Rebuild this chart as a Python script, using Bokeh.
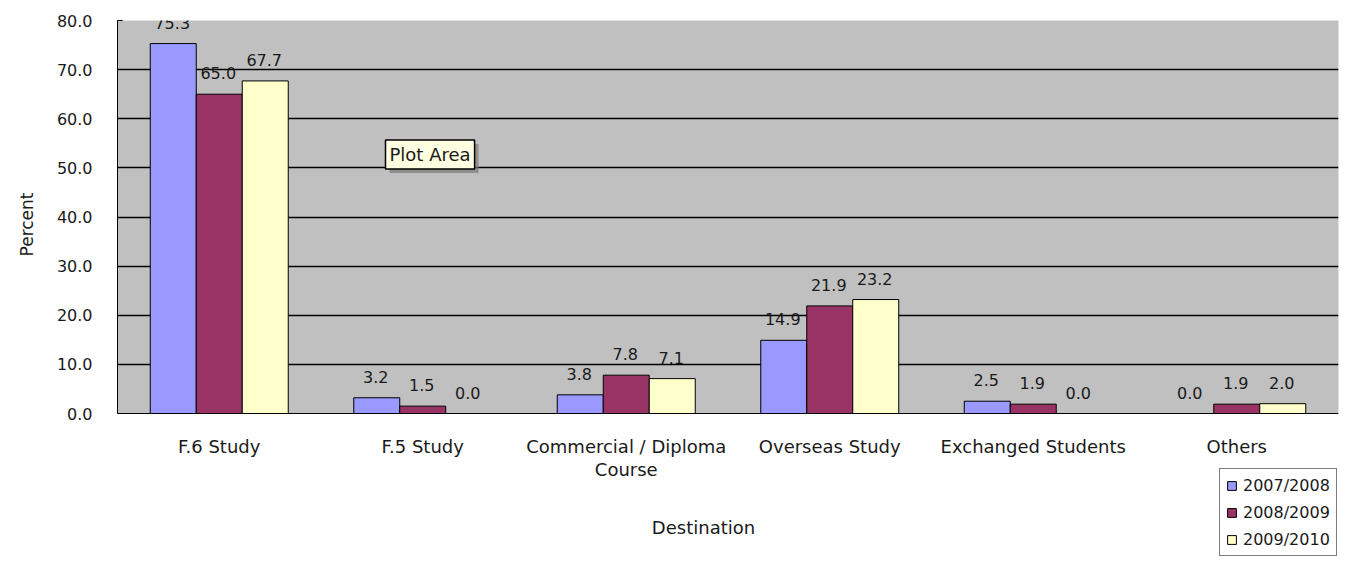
from bokeh.plotting import figure
from bokeh.models import (ColumnDataSource, FactorRange, Range1d, Legend, LegendItem,
                          LabelSet, Label, FixedTicker,
                          NumeralTickFormatter, BoxAnnotation, Title)
from bokeh.core.properties import value
from bokeh.transform import dodge
from bokeh.embed import file_html
from bokeh.resources import INLINE

categories = ["F.6 Study", "F.5 Study", "Commercial / Diploma\nCourse",
              "Overseas Study", "Exchanged Students", "Others"]
series_names = ["2007/2008", "2008/2009", "2009/2010"]
v2007 = [75.3, 3.2, 3.8, 14.9, 2.5, 0.0]
v2008 = [65.0, 1.5, 7.8, 21.9, 1.9, 1.9]
v2009 = [67.7, 0.0, 7.1, 23.2, 0.0, 2.0]
colors = ["#9999FF", "#993366", "#FFFFCC"]
y_ticks = [0, 10, 20, 30, 40, 50, 60, 70, 80]
grid_ticks = [10, 20, 30, 40, 50, 60, 70]

FONT = "DejaVu Sans"
TXT = "#1a1a1a"
W, H = 1343, 556
LEFT, RIGHT, TOP, PLOT_BOTTOM = 117, 5, 20, 413   # plot-area edges in px
Y_MAX = 80
px_per_unit = (PLOT_BOTTOM - TOP) / Y_MAX
y_lo = -(H - PLOT_BOTTOM) / px_per_unit            # frame runs to canvas bottom

p = figure(x_range=FactorRange(factors=categories, range_padding=0),
           y_range=Range1d(y_lo, Y_MAX),
           width=W, height=H, output_backend="svg", toolbar_location=None,
           min_border_left=LEFT, min_border_right=RIGHT, min_border_top=TOP,
           min_border_bottom=0)
p.background_fill_color = "white"
p.border_fill_color = "white"
p.outline_line_color = None

# grey plot area
area = BoxAnnotation(bottom=0, top=Y_MAX, fill_color="#C0C0C0", fill_alpha=1,
                     line_color="#8a8a8a", line_width=1, level="underlay")
p.add_layout(area)
p.center = [area] + [r for r in p.center if r is not area]

src = ColumnDataSource(dict(cat=categories, a=v2007, b=v2008, c=v2009,
                            la=["%.1f" % v for v in v2007],
                            lb=["%.1f" % v for v in v2008],
                            lc=["%.1f" % v for v in v2009]))
bw = 0.226
offs = [-bw, 0.0, bw]
keys = ["a", "b", "c"]
lkeys = ["la", "lb", "lc"]
items = []
for k, lk, off, col, name in zip(keys, lkeys, offs, colors, series_names):
    r = p.vbar(x=dodge("cat", off, range=p.x_range), top=k, bottom=0, width=bw,
               source=src, fill_color=col, line_color="black", line_width=1)
    items.append(LegendItem(label=name, renderers=[r]))
    lab = LabelSet(x=dodge("cat", off, range=p.x_range), y=k, text=lk, source=src,
                   text_align="center", text_baseline="middle", y_offset=21, x_offset=-1,
                   text_font=value(FONT), text_font_size=value("16px"), text_color=TXT)
    p.add_layout(lab)

# y axis (left panel), limited to the plot area
p.yaxis.ticker = FixedTicker(ticks=y_ticks)
p.yaxis.bounds = (0, Y_MAX)
p.yaxis.formatter = NumeralTickFormatter(format="0.0")
p.yaxis.major_tick_in = 5
p.yaxis.major_tick_out = 0
p.yaxis.minor_tick_line_color = None
p.yaxis.axis_line_color = "black"
p.yaxis.major_tick_line_color = "black"
p.yaxis.major_label_standoff = 25
p.yaxis.major_label_text_font = FONT
p.yaxis.major_label_text_font_size = "16px"
p.yaxis.major_label_text_color = TXT

ytitle = Title(text="Percent", align="right", offset=172, vertical_align="middle",
               standoff=31, text_font=FONT, text_font_size="17px",
               text_font_style="normal", text_color=TXT)
p.add_layout(ytitle, "left")

# x axis drawn at y = 0 inside the frame
p.xaxis.fixed_location = 0
p.xaxis.major_tick_line_color = None
p.xaxis.major_tick_out = 0
p.xaxis.minor_tick_line_color = None
p.xaxis.axis_line_color = "black"
p.xaxis.major_label_standoff = 22
p.xaxis.major_label_text_font = FONT
p.xaxis.major_label_text_font_size = "18px"
p.xaxis.major_label_text_color = TXT
p.xaxis.major_label_text_line_height = 1.1

xtitle = Label(x=586, y=29, x_units="screen", y_units="screen", text="Destination",
               text_font=FONT, text_font_size="18px", text_color=TXT,
               text_align="center", text_baseline="middle")
p.add_layout(xtitle)

p.xgrid.grid_line_color = None
p.ygrid.ticker = FixedTicker(ticks=grid_ticks)
p.ygrid.grid_line_color = "black"
p.ygrid.grid_line_width = 1.5

# tooltip-like "Plot Area" box
shadow = Label(x=272, y=255 + (H - PLOT_BOTTOM), x_units="screen", y_units="screen",
               text="Plot Area", text_font=FONT, text_font_size="18px",
               text_color="#7a7a7a", background_fill_color="#7a7a7a",
               background_fill_alpha=0.7, text_baseline="middle", padding=4)
p.add_layout(shadow)
tip = Label(x=268, y=259 + (H - PLOT_BOTTOM), x_units="screen", y_units="screen",
            text="Plot Area", text_font=FONT, text_font_size="18px", text_color=TXT,
            background_fill_color="#FFFFE1", border_line_color="black",
            border_line_width=1.5, text_baseline="middle", padding=4)
p.add_layout(tip)

legend = Legend(items=items, location=(1219 - LEFT, 0), orientation="vertical",
                border_line_color="black", border_line_width=1.5,
                background_fill_color="white", background_fill_alpha=1,
                label_text_font=FONT, label_text_font_size="16px",
                label_text_color=TXT, glyph_width=11, glyph_height=11,
                label_height=20, spacing=7, padding=6, label_standoff=6,
                margin=0)
p.add_layout(legend)

open("out.html", "w").write(file_html(p, INLINE))
